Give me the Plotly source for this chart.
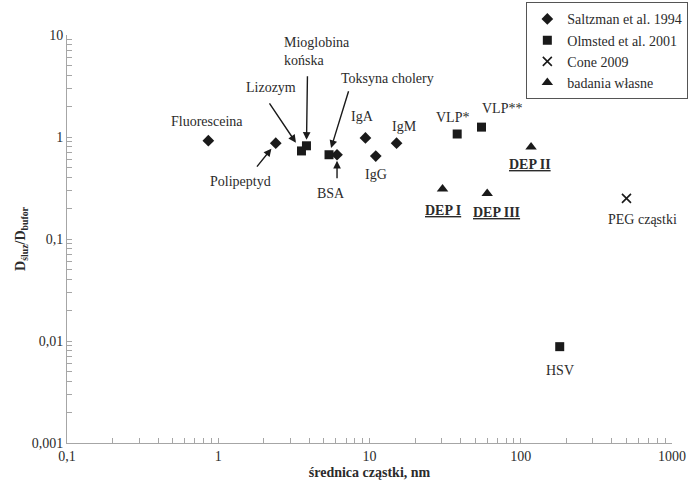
import math
import plotly.graph_objects as go

# ---- data ----
saltzman_x = [0.86, 2.4, 6.1, 9.4, 11.0, 15.1]
saltzman_y = [0.92, 0.87, 0.67, 0.98, 0.65, 0.87]
saltzman_labels = ["Fluoresceina", "Polipeptyd", "BSA", "IgA", "IgG", "IgM"]

olmsted_x = [3.55, 3.83, 5.4, 38.0, 55.0, 181.0]
olmsted_y = [0.73, 0.82, 0.67, 1.07, 1.25, 0.0088]
olmsted_labels = ["Lizozym", "Mioglobina<br>końska", "Toksyna cholery", "VLP*", "VLP**", "HSV"]

cone_x = [500.0]
cone_y = [0.25]
cone_labels = ["PEG cząstki"]

own_x = [30.4, 117.0, 60.0]
own_y = [0.31, 0.80, 0.28]
own_labels = ["<b><u>DEP I</u></b>", "<b><u>DEP II</u></b>", "<b><u>DEP III</u></b>"]

x_tickvals = [0.1, 1, 10, 100, 1000]
x_ticktext = ["0,1", "1", "10", "100", "1000"]
y_tickvals = [0.001, 0.01, 0.1, 1, 10]
y_ticktext = ["0,001", "0,01", "0,1", "1", "10"]

# ---- styling / label placement (pixel offsets from the point) ----
FONT = "Liberation Serif, Times New Roman, serif"
TXT = "#2b2b2b"
AX = "#a6a6a6"
MK = "#1a1a1a"

# label: (dx, dy, xanchor)
label_offsets = {
    "Fluoresceina": (-1, -19, "center"),
    "Polipeptyd": (-35, 38, "center"),
    "BSA": (-6, 39, "center"),
    "IgA": (-3, -21, "center"),
    "IgG": (0, 18, "center"),
    "IgM": (8, -17, "center"),
    "Lizozym": (-30, -63, "center"),
    "Mioglobina<br>końska": (-24, -94, "left"),
    "Toksyna cholery": (58, -76, "center"),
    "VLP*": (-5, -17, "center"),
    "VLP**": (21, -19, "center"),
    "HSV": (0, 24, "center"),
    "PEG cząstki": (16, 21, "center"),
    "<b><u>DEP I</u></b>": (0, 22, "center"),
    "<b><u>DEP II</u></b>": (-1, 18, "center"),
    "<b><u>DEP III</u></b>": (9, 19, "center"),
}
# arrows: label -> (ax, ay, standoff)
arrow_offsets = {
    "Polipeptyd": (-20, 25, 7),
    "BSA": (0, 25, 6),
    "Lizozym": (-33, -49, 10),
    "Mioglobina<br>końska": (1, -71, 6),
    "Toksyna cholery": (20, -65, 7),
}

fig = go.Figure()
fig.add_trace(go.Scatter(x=saltzman_x, y=saltzman_y, mode="markers", name="Saltzman et al. 1994",
                         marker=dict(symbol="diamond", size=9, color=MK)))
fig.add_trace(go.Scatter(x=olmsted_x, y=olmsted_y, mode="markers", name="Olmsted et al. 2001",
                         marker=dict(symbol="square", size=9, color=MK)))
fig.add_trace(go.Scatter(x=cone_x, y=cone_y, mode="markers", name="Cone 2009",
                         marker=dict(symbol="x-thin", size=9, color=MK, line=dict(width=1.6, color=MK))))
fig.add_trace(go.Scatter(x=own_x, y=own_y, mode="markers", name="badania własne",
                         marker=dict(symbol="triangle-up", size=10, color=MK)))

annotations = []
for xs, ys, labels in [(saltzman_x, saltzman_y, saltzman_labels),
                       (olmsted_x, olmsted_y, olmsted_labels),
                       (cone_x, cone_y, cone_labels),
                       (own_x, own_y, own_labels)]:
    for xv, yv, lab in zip(xs, ys, labels):
        dx, dy, xa = label_offsets[lab]
        annotations.append(dict(x=math.log10(xv), y=math.log10(yv), xref="x", yref="y",
                                text=lab, showarrow=False, xshift=dx, yshift=-dy,
                                xanchor=xa, yanchor="middle", align="left",
                                font=dict(family=FONT, size=14, color=TXT)))
        if lab in arrow_offsets:
            ax, ay, so = arrow_offsets[lab]
            annotations.append(dict(x=math.log10(xv), y=math.log10(yv), xref="x", yref="y",
                                    text="", showarrow=True, ax=ax, ay=ay, standoff=so,
                                    arrowhead=2, arrowsize=1.1, arrowwidth=1.4, arrowcolor=MK))

minor_x = [m * 10 ** e for e in range(-1, 3) for m in range(2, 10)]
minor_y = [m * 10 ** e for e in range(-3, 1) for m in range(2, 10)]

fig.update_layout(
    width=689, height=485,
    margin=dict(l=67, r=17, t=35, b=42, autoexpand=False),
    paper_bgcolor="white", plot_bgcolor="white",
    font=dict(family=FONT, size=14, color=TXT),
    hovermode=False,
    showlegend=True,
    legend=dict(x=1.027, xanchor="right", y=1.08, yanchor="top",
                bgcolor="white", bordercolor="#555", borderwidth=1,
                itemwidth=30, font=dict(family=FONT, size=14, color=TXT),
                tracegroupgap=0),
    annotations=annotations,
)
fig.update_xaxes(type="log", range=[-1, 3], showgrid=False, zeroline=False,
                 showline=True, linecolor=AX, linewidth=1,
                 ticks="inside", ticklen=5, tickcolor=AX,
                 tickvals=x_tickvals, ticktext=x_ticktext,
                 minor=dict(tickvals=minor_x, ticks="inside", ticklen=5, tickcolor=AX, showgrid=False),
                 title=dict(text="<b>średnica cząstki, nm</b>", font=dict(family=FONT, size=14, color=TXT), standoff=4))
fig.update_yaxes(type="log", range=[-3, 1], showgrid=False, zeroline=False,
                 showline=True, linecolor=AX, linewidth=1,
                 ticks="inside", ticklen=5, tickcolor=AX,
                 tickvals=y_tickvals, ticktext=y_ticktext,
                 minor=dict(tickvals=minor_y, ticks="inside", ticklen=5, tickcolor=AX, showgrid=False),
                 title=dict(text="<b>D<sub>śluz</sub>/D<sub>bufor</sub></b>", font=dict(family=FONT, size=14, color=TXT), standoff=2))

fig.write_html("out.html", config={"displayModeBar": False},
               post_script="document.body.style.margin='0';document.body.style.overflow='hidden';")
